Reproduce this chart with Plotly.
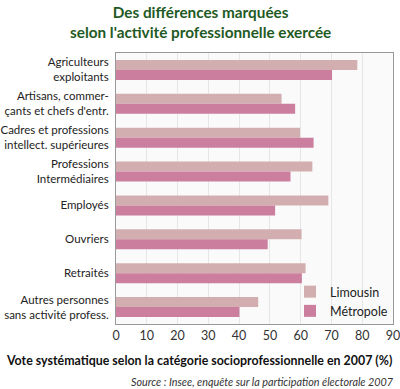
import plotly.graph_objects as go

categories = [
    "Agriculteurs<br>exploitants",
    "Artisans, commer-<br>çants et chefs d'entr.",
    "Cadres et professions<br>intellect. supérieures",
    "Professions<br>Intermédiaires",
    "Employés",
    "Ouvriers",
    "Retraités",
    "Autres personnes<br>sans activité profess.",
]
limousin = [78.4, 53.8, 59.8, 63.8, 69.0, 60.3, 61.6, 46.2]
metropole = [70.2, 58.2, 64.2, 56.7, 51.7, 49.3, 60.4, 40.1]
x_ticks = [0, 10, 20, 30, 40, 50, 60, 70, 80, 90]

FONT = "Lato"
W, H = 400, 389
L, R, T, B = 116, 7, 53, 65
PW, PH = W - L - R, H - T - B


def px(xp):
    return (xp - L) / PW


def py(yp):
    return (H - B - yp) / PH


fig = go.Figure()
fig.add_trace(go.Bar(y=categories, x=limousin, name="Limousin", orientation="h",
                     marker=dict(color="#d3aeb0", line=dict(width=0))))
fig.add_trace(go.Bar(y=categories, x=metropole, name="Métropole", orientation="h",
                     marker=dict(color="#cc7e9e", line=dict(width=0))))

fig.update_layout(
    width=W, height=H,
    margin=dict(l=L, r=R, t=T, b=B, autoexpand=False),
    paper_bgcolor="white",
    plot_bgcolor="#fafafa",
    barmode="group",
    bargap=0.41,
    bargroupgap=0,
    font=dict(family=FONT, size=12, color="#222"),
    showlegend=True,
    legend=dict(x=1, y=py(326), xanchor="right", yanchor="bottom",
                bgcolor="rgba(0,0,0,0)", font=dict(size=12.5, color="#222"),
                tracegroupgap=0, itemwidth=30),
    xaxis=dict(range=[0, 90], tickvals=x_ticks, showgrid=True, gridcolor="#e6e6e6",
               gridwidth=1, showline=True, linecolor="#999", linewidth=1, mirror=True,
               ticks="", zeroline=False, tickfont=dict(size=12.5, color="#333"),
               ticklabeloverflow="allow", automargin=False),
    yaxis=dict(autorange="reversed", showline=True, linecolor="#999", linewidth=1,
               mirror=True, ticks="", tickfont=dict(size=11.5, color="#222"),
               ticklabelstandoff=4, automargin=False),
    annotations=[
        dict(text="<b>Des différences marquées<br>selon l'activité professionnelle exercée</b>",
             x=px(200), y=py(1), xref="paper", yref="paper", xanchor="center", yanchor="top",
             showarrow=False, font=dict(size=15.3, color="#1f5a24", family=FONT)),
        dict(text="<b>Vote systématique selon la catégorie socioprofessionnelle en 2007 (%)</b>",
             x=px(4), y=py(360), xref="paper", yref="paper", xanchor="left", yanchor="middle",
             showarrow=False, font=dict(size=12.4, color="#111", family=FONT)),
        dict(text="<i>Source : Insee, enquête sur la participation électorale 2007</i>",
             x=px(396), y=py(381), xref="paper", yref="paper", xanchor="right", yanchor="middle",
             showarrow=False, font=dict(size=10.8, color="#333", family=FONT)),
    ],
)

fig.write_html("out.html", config={"displayModeBar": False},
               post_script="document.body.style.margin='0';")
